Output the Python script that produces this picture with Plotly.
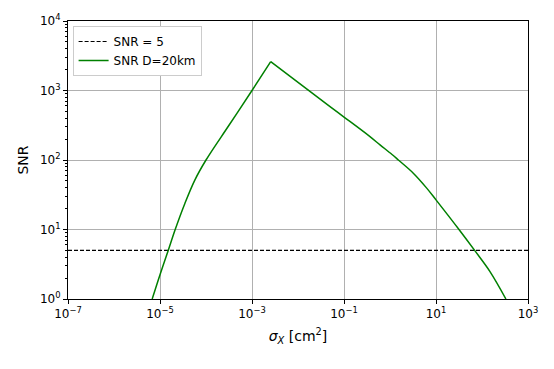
import plotly.graph_objects as go

# cross section sigma_X [cm^2] and SNR for D=20km, rising and falling branches
sigma_rise = [6.76e-6, 1e-5, 1.51e-5, 2.14e-5, 3.49e-5, 5.75e-5, 1e-4, 3.16e-4, 1e-3, 2.55e-3]
snr_rise = [1.0, 2.24, 5.0, 10, 23.9, 51.8, 100, 316, 1000, 2600]
sigma_fall = [2.55e-3, 0.0497, 0.1, 0.367, 0.607, 1.09, 1.52, 3.21, 6.28, 10, 31.6, 69.2, 148, 331]
snr_fall = [2600, 585, 415, 217, 165, 121, 100, 64.6, 39.4, 26.7, 10, 5.0, 2.5, 1.0]

snr_threshold = 5
x_range = [1e-7, 1e3]

x_ticks = [1e-7, 1e-5, 1e-3, 1e-1, 1e1, 1e3]
x_ticktext = ["10<sup>−7</sup>", "10<sup>−5</sup>", "10<sup>−3</sup>",
              "10<sup>−1</sup>", "10<sup>1</sup>", "10<sup>3</sup>"]
y_ticks = [1, 10, 100, 1000, 10000]
y_ticktext = ["10<sup>0</sup>", "10<sup>1</sup>", "10<sup>2</sup>",
              "10<sup>3</sup>", "10<sup>4</sup>"]
y_minor = [m * 10 ** k for k in range(4) for m in range(2, 10)]

fig = go.Figure()

fig.add_trace(go.Scatter(
    x=x_range, y=[snr_threshold, snr_threshold],
    mode="lines", name="SNR = 5",
    line=dict(color="black", width=1.2, dash="4px,2px")
))

fig.add_trace(go.Scatter(
    x=sigma_rise, y=snr_rise,
    mode="lines", name="SNR D=20km", legendgroup="d20",
    line=dict(color="#008000", width=1.5, shape="spline", smoothing=1.0)
))
fig.add_trace(go.Scatter(
    x=sigma_fall, y=snr_fall,
    mode="lines", name="SNR D=20km", legendgroup="d20", showlegend=False,
    line=dict(color="#008000", width=1.5, shape="spline", smoothing=1.0)
))

axis_common = dict(
    type="log",
    automargin=False,
    showline=True, linecolor="black", linewidth=1, mirror=True,
    ticks="outside", ticklen=4, tickcolor="black",
    showgrid=True, gridcolor="#b0b0b0", gridwidth=1,
    zeroline=False,
    tickfont=dict(family="DejaVu Sans", size=12, color="black"),
)

# page body adds an 8px offset, so the figure is a bit smaller than the window
fig.update_layout(
    width=546, height=361,
    margin=dict(l=60, r=26, t=13, b=70),
    paper_bgcolor="white", plot_bgcolor="white",
    font=dict(family="DejaVu Sans", color="black"),
    xaxis=dict(
        axis_common,
        range=[-7, 3],
        tickvals=x_ticks, ticktext=x_ticktext,
        title=dict(text="<i>σ<sub>X</sub></i> [cm<sup>2</sup>]",
                   font=dict(size=14), standoff=10),
    ),
    yaxis=dict(
        axis_common,
        range=[0, 4],
        tickvals=y_ticks, ticktext=y_ticktext,
        minor=dict(tickvals=y_minor, ticks="outside", ticklen=2,
                   tickcolor="black", showgrid=False),
        title=dict(text="SNR", font=dict(size=14), standoff=8),
    ),
    legend=dict(
        x=0.01, y=0.982, xanchor="left", yanchor="top",
        bgcolor="white", bordercolor="#cccccc", borderwidth=1,
        font=dict(family="DejaVu Sans", size=12, color="black"),
        tracegroupgap=0,
    ),
    showlegend=True,
)

fig.write_html("out.html")
